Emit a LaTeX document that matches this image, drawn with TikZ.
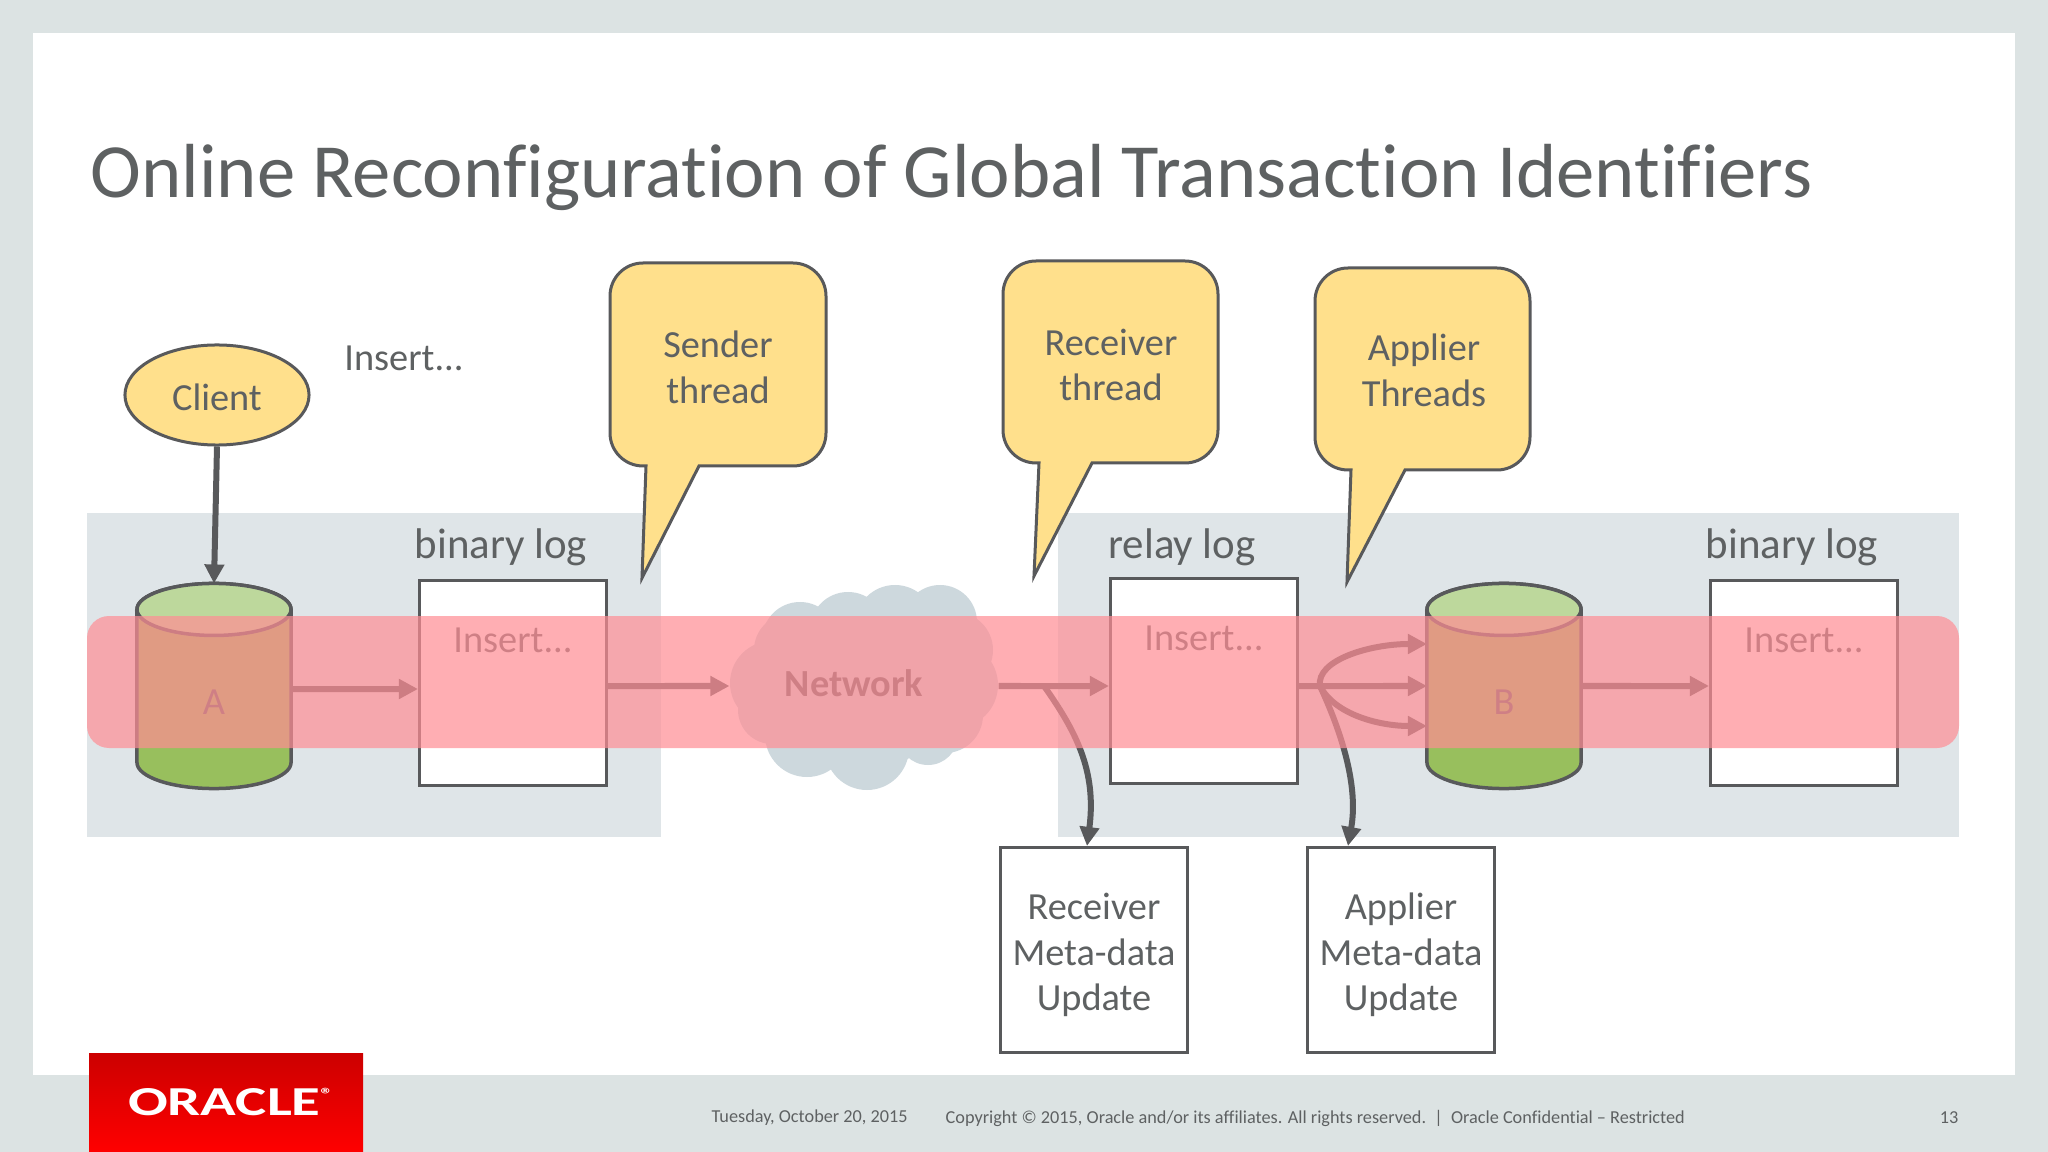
\documentclass[tikz,border=0pt]{standalone}
\usepackage{fontspec}
\setmainfont[Ligatures=NoCommon]{Carlito}
\usetikzlibrary{arrows.meta,shapes.geometric}
\definecolor{slidebg}{HTML}{DCE3E3}
\definecolor{panelbg}{HTML}{DFE5E8}
\definecolor{inkgray}{HTML}{5E6162}
\definecolor{linegray}{HTML}{58595B}
\definecolor{noteyellow}{HTML}{FFE08C}
\definecolor{dbgreen}{HTML}{98BF5D}
\definecolor{dbtop}{HTML}{BDD89C}
\definecolor{cloudgray}{HTML}{CDD8DD}
\definecolor{bandred}{RGB}{255,141,148}
\tikzset{
  txt/.style={text=inkgray,font=\fontsize{10.9}{13}\selectfont,align=center,inner sep=0pt},
  loglabel/.style={txt,font=\fontsize{12.2}{14}\selectfont},
  foot/.style={text=inkgray,font=\fontsize{5.19}{7}\selectfont,inner sep=0pt},
  logbox/.style={draw=linegray,line width=0.03cm,fill=white,minimum width=1.87cm,minimum height=2.05cm,inner sep=0pt},
  dbnode/.style={minimum width=1.54cm,minimum height=2.05cm,inner sep=0pt,outer sep=0pt},
  dbline/.style={draw=linegray,line width=0.035cm},
  note/.style={draw=linegray,line width=0.03cm,fill=noteyellow},
  flow/.style={draw=linegray,line width=0.06cm,-{Triangle[length=0.19cm,width=0.19cm]}},
}
\begin{document}
\begin{tikzpicture}[x=0.01cm,y=-0.01cm]
    \useasboundingbox (0,0) rectangle (2048,1152);
    \fill[slidebg] (0,0) rectangle (2048,1152);
    \fill[white] (33,33) rectangle (2015,1075);
    \node[anchor=west,text=inkgray,font=\fontsize{21.8}{24}\selectfont,inner sep=0pt] (title) at (90,177)
        {Online Reconfiguration of Global Transaction Identifiers};

    % server panels
    \fill[panelbg] (87,513) rectangle (661,837);
    \fill[panelbg] (1058,513) rectangle (1959,837);

    \node[draw=linegray,line width=0.03cm,fill=noteyellow,ellipse,minimum width=1.84cm,minimum height=1cm] (client) at (217,395) {};
    \node[txt] (clientName) at (217,397) {Client};
    \node[txt] (insertLabel) at (404,358) {Insert...};

    \node[dbnode] (dbA) at (214,686) {};
    \node[dbnode] (dbB) at (1504,686) {};
    \foreach \db in {dbA,dbB} {
        \filldraw[dbline,fill=dbgreen] ([yshift=-0.26cm]\db.north west) -- ([yshift=0.26cm]\db.south west)
            arc[start angle=180,end angle=360,x radius=0.77cm,y radius=0.26cm] -- ([yshift=-0.26cm]\db.north east)
            arc[start angle=0,end angle=180,x radius=0.77cm,y radius=0.26cm] -- cycle;
        \filldraw[dbline,fill=dbtop] ([yshift=-0.26cm]\db.north) ellipse[x radius=0.77cm,y radius=0.26cm];
    }
    \node[txt] (nameA) at (214,702) {A};
    \node[txt] (nameB) at (1504,702) {B};

    \node[logbox] (binlogA) at (513,683) {};
    \node[logbox] (relaylog) at (1204,681) {};
    \node[logbox] (binlogB) at (1804,683) {};
    \node[loglabel] (binlogAName) at (501,547) {binary log};
    \node[loglabel] (relaylogName) at (1182,547) {relay log};
    \node[loglabel] (binlogBName) at (1792,547) {binary log};
    \node[txt] (insertA) at (513,640) {Insert...};
    \node[txt] (insertRelay) at (1204,638) {Insert...};
    \node[txt] (insertB) at (1804,640) {Insert...};

    % network cloud
    \foreach \cx/\cy/\r in {864/686/85,800/640/38,848/630/38,895/625/40,940/622/37,955/650/38,955/685/43,945/715/38,
        928/735/30,867/748/42,807/735/42,772/710/34,772/683/42,790/650/36} {
        \fill[cloudgray] (\cx,\cy) circle (\r);
    }
    \node[minimum width=2.69cm,minimum height=2.05cm,inner sep=0pt,outer sep=0pt] (network) at (864,686) {};
    \node[txt,font=\fontsize{10.9}{13}\selectfont\bfseries] (networkName) at (854,683) {Network};

    \node[logbox] (receiverMeta) at (1094,950) {};
    \node[logbox] (applierMeta) at (1401,950) {};
    \node[txt] (receiverMetaText) at (1094,955) {Receiver\\Meta-data\\Update};
    \node[txt] (applierMetaText) at (1401,955) {Applier\\Meta-data\\Update};

    \coordinate (receiverFork) at (1044,686);
    \coordinate (applierFork) at (1320,686);

    \draw[flow] (client.south) -- (dbA.north);
    \draw[flow] ([yshift=-0.03cm]dbA.east) -- ([yshift=-0.06cm]binlogA.west);
    \draw[flow] ([yshift=-0.03cm]binlogA.east) -- (network.west);
    \draw[flow] (network.east) -- ([yshift=-0.05cm]relaylog.west);
    \draw[flow] ([yshift=-0.05cm]relaylog.east) -- (dbB.west);
    \draw[flow] (applierFork) .. controls (1316,660) and (1370,644) .. ([yshift=0.42cm]dbB.west);
    \draw[flow] (applierFork) .. controls (1335,715) and (1380,726) .. ([yshift=-0.4cm]dbB.west);
    \draw[flow] (dbB.east) -- ([yshift=-0.03cm]binlogB.west);
    \draw[flow] (receiverFork) .. controls (1075,730) and (1097,770) .. ([xshift=-0.07cm]receiverMeta.north);
    \draw[flow] (applierFork) .. controls (1345,740) and (1358,790) .. ([xshift=-0.53cm]applierMeta.north);

    % callouts
    \draw[note] (646,466) [rounded corners=0.33cm] -| (610,263) -| (826,466) -- (760,466) [sharp corners] -- (699,466) -- (642,578) -- cycle;
    \draw[note] (1039,463) [rounded corners=0.33cm] -| (1003,261) -| (1218,463) -- (1150,463) [sharp corners] -- (1092,463) -- (1034,576) -- cycle;
    \draw[note] (1351,470) [rounded corners=0.33cm] -| (1315,268) -| (1530,470) -- (1460,470) [sharp corners] -- (1405,470) -- (1347,582) -- cycle;
    \node[txt] (senderNote) at (718,367) {Sender\\thread};
    \node[txt] (receiverNote) at (1111,365) {Receiver\\thread};
    \node[txt] (applierNote) at (1424,370) {Applier\\Threads};

    % highlighted event
    \fill[bandred,opacity=0.7,rounded corners=0.22cm] (87,616) rectangle (1959,748);

    % footer
    \shade[top color=red!80!black,bottom color=red] (89,1053) rectangle (363,1152);
    \node[text=white,font=\fontsize{11.7}{12}\selectfont\bfseries,inner sep=0pt,xscale=1.43] (logo) at (232,1102) {ORACLE\textsuperscript{\tiny ®}};
    \node[foot,anchor=west] (footDate) at (711,1118) {Tuesday, October 20, 2015};
    \node[foot,anchor=west] (footCopy) at (945,1118) {Copyright © 2015, Oracle and/or its affiliates. All rights reserved.\ \ |\ \ Oracle Confidential – Restricted};
    \node[foot,anchor=east] (footPage) at (1959,1118) {13};
\end{tikzpicture}
\end{document}
